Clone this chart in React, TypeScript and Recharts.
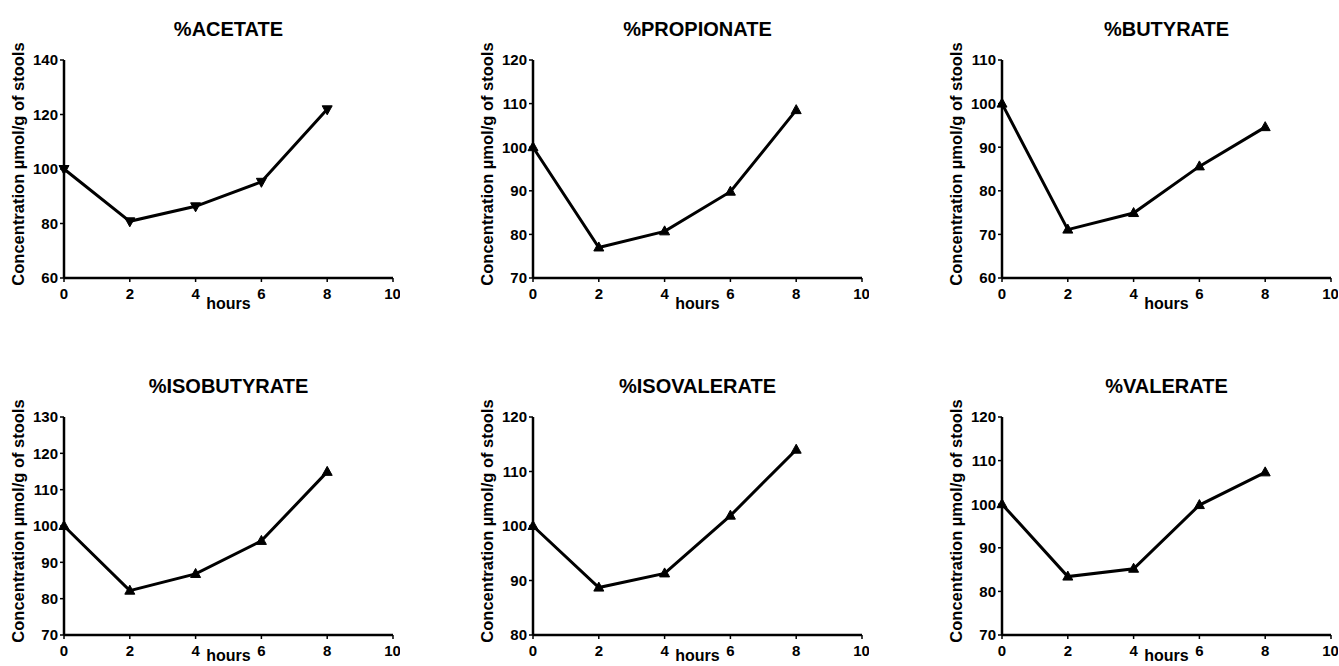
import React from 'react';
import { LineChart, Line, XAxis, YAxis } from 'recharts';

// sampling times (hours) and the x tick labels
const hours = [0, 2, 4, 6, 8];
const xTicks = [0, 2, 4, 6, 8, 10];

// % of baseline concentration per time point
const acetate = [100, 80.8, 86.3, 95.3, 121.9];
const propionate = [100, 77, 80.7, 89.8, 108.5];
const butyrate = [100, 71.1, 74.9, 85.6, 94.6];
const isobutyrate = [100, 82.2, 86.8, 95.9, 114.9];
const isovalerate = [100, 88.7, 91.3, 101.9, 114];
const valerate = [100, 83.4, 85.2, 99.8, 107.3];

// y tick labels per panel
const acetateTicks = [60, 80, 100, 120, 140];
const propionateTicks = [70, 80, 90, 100, 110, 120];
const butyrateTicks = [60, 70, 80, 90, 100, 110];
const isobutyrateTicks = [70, 80, 90, 100, 110, 120, 130];
const isovalerateTicks = [80, 90, 100, 110, 120];
const valerateTicks = [70, 80, 90, 100, 110, 120];

const titles = ['%ACETATE', '%PROPIONATE', '%BUTYRATE', '%ISOBUTYRATE', '%ISOVALERATE', '%VALERATE'];
const series = [acetate, propionate, butyrate, isobutyrate, isovalerate, valerate];
const yTicks = [acetateTicks, propionateTicks, butyrateTicks, isobutyrateTicks, isovalerateTicks, valerateTicks];

const FONT = '"Liberation Sans", Arial, Helvetica, sans-serif';
const CHART_W = 400;
const CHART_H = 320;
const PLOT_LEFT = 64;
const PLOT_W = 329;

const Marker = (props: any) => {
  const { cx, cy, down } = props;
  if (cx == null || cy == null) return null;
  const pts = down
    ? `${cx - 5},${cy - 3.5} ${cx + 5},${cy - 3.5} ${cx},${cy + 5.5}`
    : `${cx},${cy - 5.5} ${cx - 5},${cy + 3.5} ${cx + 5},${cy + 3.5}`;
  return <polygon points={pts} fill="#000" stroke="#000" strokeWidth={1} />;
};

const YLabel = (props: any) => {
  const vb = props.viewBox || {};
  const cx = vb.x + 18;
  const cy = vb.y + vb.height / 2 - 5;
  return (
    <text
      x={cx}
      y={cy}
      transform={`rotate(-90 ${cx} ${cy})`}
      textAnchor="middle"
      dominantBaseline="central"
      fontFamily={FONT}
      fontWeight={700}
      fontSize={16.5}
      fill="#000"
    >
      Concentration µmol/g of stools
    </text>
  );
};

const XLabel = (props: any) => {
  const vb = props.viewBox || {};
  return (
    <text
      x={vb.x + vb.width / 2}
      y={vb.y + props.baseline}
      textAnchor="middle"
      fontFamily={FONT}
      fontWeight={700}
      fontSize={16}
      fill="#000"
    >
      hours
    </text>
  );
};

const tickStyle = { fill: '#000', fontSize: 15, fontWeight: 700, fontFamily: FONT };

const Panel = ({ index }: { index: number }) => {
  const values = series[index];
  const ticks = yTicks[index];
  const data = hours.map((h, i) => ({ hours: h, value: values[i] }));
  const row = Math.floor(index / 3);
  const left = (index % 3) * 469;
  const top = row * 357;
  const down = index === 0;

  return (
    <div style={{ position: 'absolute', left, top, width: CHART_W, height: CHART_H }}>
      <div
        style={{
          position: 'absolute',
          left: PLOT_LEFT,
          width: PLOT_W,
          top: 19,
          textAlign: 'center',
          fontFamily: FONT,
          fontWeight: 700,
          fontSize: 20,
          lineHeight: '20px',
        }}
      >
        {titles[index]}
      </div>
      <LineChart width={CHART_W} height={CHART_H} data={data} margin={{ top: 60, right: 7, bottom: 12, left: 0 }}>
        <XAxis
          dataKey="hours"
          type="number"
          domain={[0, 10]}
          ticks={xTicks}
          height={30}
          tick={tickStyle}
          tickSize={4}
          tickMargin={6}
          axisLine={{ stroke: '#000', strokeWidth: 2.5 }}
          tickLine={{ stroke: '#000', strokeWidth: 1.5 }}
          label={{ content: <XLabel baseline={row === 0 ? 31 : 26} /> }}
        />
        <YAxis
          type="number"
          domain={[ticks[0], ticks[ticks.length - 1]]}
          ticks={ticks}
          width={PLOT_LEFT}
          tick={tickStyle}
          tickSize={4}
          tickMargin={2}
          axisLine={{ stroke: '#000', strokeWidth: 2.5 }}
          tickLine={{ stroke: '#000', strokeWidth: 1.5 }}
          label={{ content: <YLabel /> }}
        />
        <Line
          dataKey="value"
          stroke="#000"
          strokeWidth={3}
          isAnimationActive={false}
          dot={(p: any) => <Marker key={`dot-${p.index}`} {...p} down={down} />}
          activeDot={false}
        />
      </LineChart>
    </div>
  );
};

export default function App() {
  return (
    <div
      style={{
        position: 'absolute',
        left: 0,
        top: 0,
        width: 1339,
        height: 666,
        overflow: 'hidden',
        background: '#fff',
      }}
    >
      {titles.map((t, i) => (
        <Panel key={t} index={i} />
      ))}
    </div>
  );
}
